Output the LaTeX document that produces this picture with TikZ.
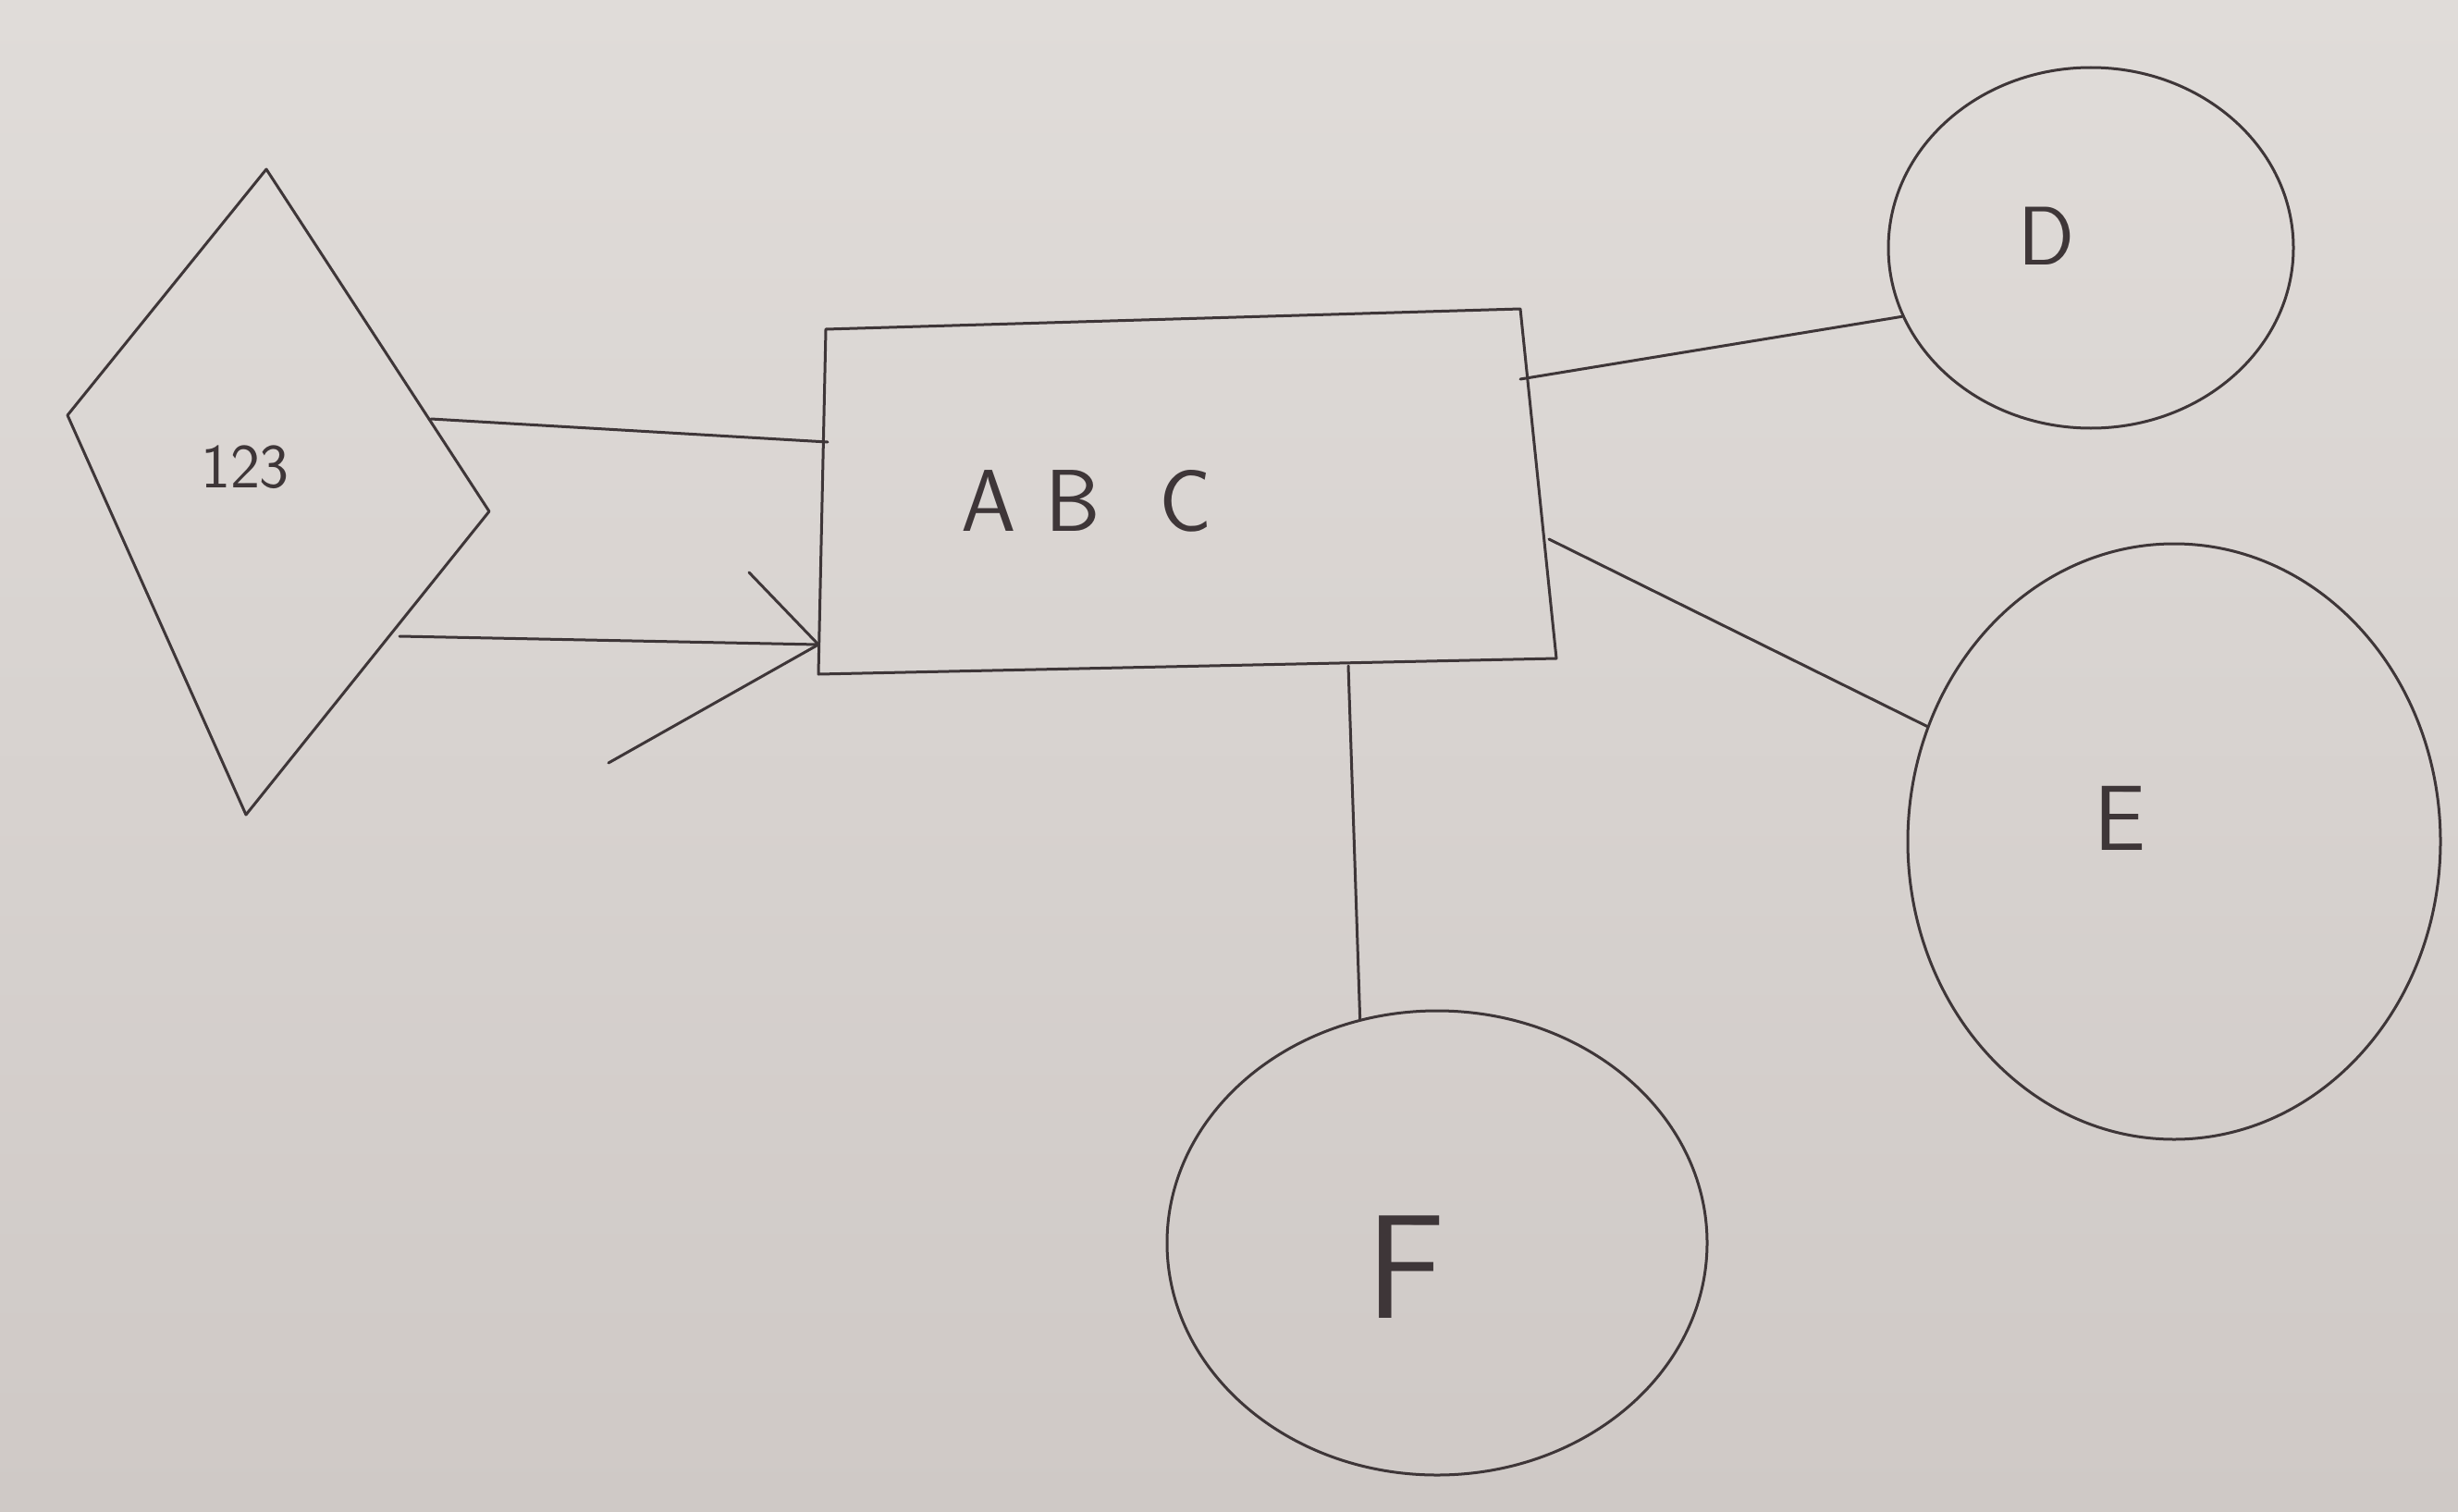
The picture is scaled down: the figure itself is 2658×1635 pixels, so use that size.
\documentclass[tikz,border=0pt]{standalone}
\usetikzlibrary{shapes.geometric}
\definecolor{paperTop}{RGB}{224,220,217}
\definecolor{paperBot}{RGB}{207,201,198}
\definecolor{ink}{RGB}{62,54,56}
\begin{document}
\begin{tikzpicture}[x=1pt,y=-1pt,
  inkline/.style={draw=ink,line width=3pt,line cap=round,line join=round},
  blob/.style={ellipse,draw=ink,line width=3pt,inner sep=0pt},
  lbl/.style={text=ink}]
\shade[top color=paperTop,bottom color=paperBot] (0,0) rectangle (2658,1635);
\useasboundingbox (0,0) rectangle (2658,1635);
% diamond
\coordinate (dT) at (288,183);
\coordinate (dL) at (73,449);
\coordinate (dR) at (529,553);
\coordinate (dB) at (266,881);
\draw[inkline] (dT) -- (dR) -- (dB) -- (dL) -- cycle;
\node[lbl,font=\sffamily\fontsize{68}{68}\selectfont] (num) at (265,505) {123};
% rectangle
\coordinate (rTL) at (893,356);
\coordinate (rTR) at (1644,334);
\coordinate (rBR) at (1683,712);
\coordinate (rBL) at (885,729);
\draw[inkline] (rTL) -- (rTR) -- (rBR) -- (rBL) -- cycle;
\node[lbl,font=\sffamily\fontsize{95}{95}\selectfont] (abc) at (1175,542) {A\,\,B\,\,\,\,C};
% connectors diamond -> rectangle
\coordinate (d1) at (466,453);
\coordinate (r1) at (895,478);
\coordinate (d2) at (432,688);
\coordinate (r2) at (885,697);
\coordinate (h1) at (810,619);
\coordinate (h2) at (658,825);
\draw[inkline] (d1) -- (r1);
\draw[inkline] (d2) -- (r2);
\draw[inkline] (h1) -- (r2);
\draw[inkline] (h2) -- (r2);
% circles
\node[blob,minimum width=438pt,minimum height=390pt] (D) at (2261,268) {};
\node[lbl,font=\sffamily\fontsize{90}{90}\selectfont] (Dl) at (2213,255) {D};
\node[blob,minimum width=576pt,minimum height=644pt] (E) at (2351,910) {};
\node[lbl,font=\sffamily\fontsize{100}{100}\selectfont] (El) at (2293,885) {E};
\node[blob,minimum width=584pt,minimum height=502pt] (F) at (1554,1344) {};
\node[lbl,font=\sffamily\fontsize{160}{160}\selectfont] (Fl) at (1520,1370) {F};
% connectors rectangle -> circles
\coordinate (rD) at (1644,410);
\coordinate (rE) at (1675,583);
\coordinate (rF) at (1458,720);
\draw[inkline] (rD) -- (D.200);
\draw[inkline] (rE) -- (E.155);
\draw[inkline] (rF) -- (F.109);
\end{tikzpicture}
\end{document}
